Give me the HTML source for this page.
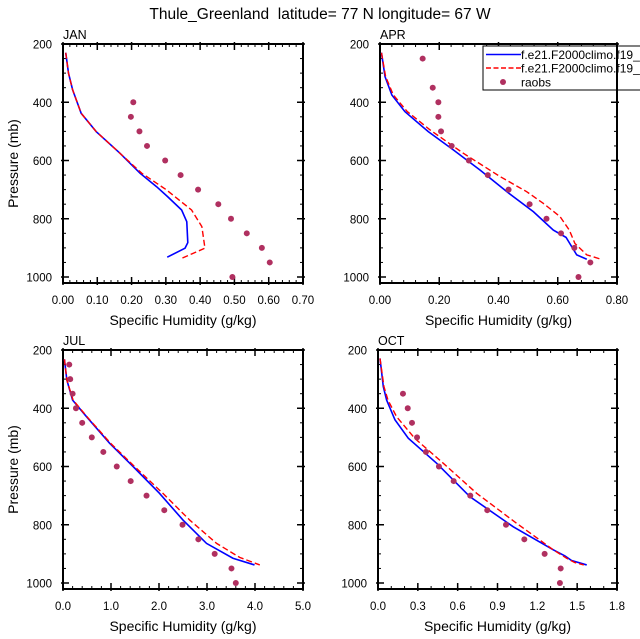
<!DOCTYPE html>
<html><head><meta charset="utf-8"><style>
html,body{margin:0;padding:0;background:#fff}
svg{display:block;font-family:"Liberation Sans",sans-serif}
</style></head><body>
<svg id="chart" width="640" height="639" viewBox="0 0 640 639" xmlns="http://www.w3.org/2000/svg">
<text x="320" y="19" font-size="15.5" text-anchor="middle" xml:space="preserve">Thule_Greenland  latitude= 77 N longitude= 67 W</text>
</svg>
<script>
// Panel data (pressure in mb, specific humidity in g/kg)
const months = ["JAN","APR","JUL","OCT"];
const xMaxes = [0.7, 0.8, 5.0, 1.8];
const xTickLabels = [
  ["0.00","0.10","0.20","0.30","0.40","0.50","0.60","0.70"],
  ["0.00","0.20","0.40","0.60","0.80"],
  ["0.0","1.0","2.0","3.0","4.0","5.0"],
  ["0.0","0.3","0.6","0.9","1.2","1.5","1.8"]
];
const xTickValues = [
  [0,0.1,0.2,0.3,0.4,0.5,0.6,0.7],
  [0,0.2,0.4,0.6,0.8],
  [0,1,2,3,4,5],
  [0,0.3,0.6,0.9,1.2,1.5,1.8]
];
const xMinorSteps = [0.02, 0.04, 0.2, 0.1];
const yTickValues = [200,400,600,800,1000];

const obsP = [250,300,350,400,450,500,550,600,650,700,750,800,850,900,950,1000];
const obsJan = [null,null,null,0.205,0.198,0.223,0.245,0.298,0.343,0.394,0.453,0.49,0.536,0.58,0.603,0.494];
const obsApr = [0.144,null,0.178,0.197,0.197,0.206,0.242,0.300,0.364,0.434,0.505,0.562,0.611,0.656,0.710,0.670];
const obsJul = [0.13,0.15,0.2,0.27,0.4,0.6,0.84,1.12,1.41,1.74,2.11,2.49,2.82,3.16,3.51,3.6];
const obsOct = [null,null,0.188,0.224,0.256,0.294,0.361,0.459,0.57,0.695,0.823,0.964,1.102,1.255,1.376,1.37];

const janBlueP = [230,300,357,438,501,575,644,690,724,770,810,882,901,932];
const janBlueQ = [0.008,0.016,0.028,0.053,0.097,0.166,0.225,0.273,0.305,0.346,0.361,0.364,0.356,0.304];
const janRedP = [230,300,357,438,501,575,644,701,770,827,901,936];
const janRedQ = [0.008,0.016,0.028,0.053,0.097,0.166,0.23,0.302,0.375,0.405,0.414,0.346];

const aprBlueP = [230,312,375,432,501,564,633,707,776,839,864,924,939];
const aprBlueQ = [0.005,0.017,0.04,0.084,0.163,0.248,0.338,0.428,0.518,0.585,0.628,0.664,0.698];
const aprRedP = [230,312,375,432,495,575,655,707,747,793,839,885,924,939];
const aprRedQ = [0.005,0.019,0.045,0.092,0.169,0.281,0.405,0.495,0.551,0.608,0.639,0.658,0.698,0.746];

const julBlueP = [232,303,372,429,520,600,692,784,864,915,938];
const julBlueQ = [0.03,0.08,0.2,0.49,0.97,1.46,2.01,2.5,2.99,3.54,3.99];
const julRedP = [232,303,372,429,520,600,692,784,864,912,938];
const julRedQ = [0.03,0.08,0.21,0.5,0.99,1.49,2.08,2.64,3.2,3.68,4.1];

const octBlueP = [229,326,372,440,503,589,704,807,886,907,923,938];
const octBlueQ = [0.015,0.04,0.065,0.128,0.228,0.442,0.693,1.019,1.32,1.408,1.458,1.572];
const octRedP = [229,326,372,429,503,589,692,795,886,915,930,938];
const octRedQ = [0.015,0.045,0.075,0.14,0.276,0.492,0.743,1.044,1.32,1.421,1.483,1.55];

const obsSeries = [obsJan, obsApr, obsJul, obsOct];
const blueP = [janBlueP, aprBlueP, julBlueP, octBlueP];
const blueQ = [janBlueQ, aprBlueQ, julBlueQ, octBlueQ];
const redP = [janRedP, aprRedP, julRedP, octRedP];
const redQ = [janRedQ, aprRedQ, julRedQ, octRedQ];

const frames = [
  {l:63,r:303,t:44,b:283,y200:44,y1000:277,leftLabel:true},
  {l:380,r:617,t:44,b:283,y200:44,y1000:277,leftLabel:false},
  {l:63,r:303,t:350,b:589,y200:350,y1000:583,leftLabel:true},
  {l:378,r:617,t:350,b:589,y200:350,y1000:583,leftLabel:false}
];

const NS = "http://www.w3.org/2000/svg";
const svg = document.getElementById("chart");
function mk(tag, attrs, parent){
  const e = document.createElementNS(NS, tag);
  for (const k in attrs) e.setAttribute(k, attrs[k]);
  (parent||svg).appendChild(e);
  return e;
}

frames.forEach((f, i) => {
  const g = mk("g", {});
  
  
  const xs = v => f.l + v / xMaxes[i] * (f.r - f.l);
  const ys = p => f.y200 + (p - 200) / 800 * (f.y1000 - f.y200);

  // minor ticks x
  const nMin = Math.round(xMaxes[i] / xMinorSteps[i]);
  for (let k = 0; k <= nMin; k++) {
    const x = xs(k * xMinorSteps[i]);
    mk("line", {x1:x,x2:x,y1:f.t,y2:f.t+3,stroke:"#000","stroke-width":1}, g);
    mk("line", {x1:x,x2:x,y1:f.b,y2:f.b-3,stroke:"#000","stroke-width":1}, g);
  }
  // minor ticks y
  for (let p = 200; p <= 1000; p += 50) {
    const y = ys(p);
    mk("line", {x1:f.l,x2:f.l+3,y1:y,y2:y,stroke:"#000","stroke-width":1}, g);
    mk("line", {x1:f.r,x2:f.r-3,y1:y,y2:y,stroke:"#000","stroke-width":1}, g);
  }
  // major x ticks + labels
  xTickValues[i].forEach((v, k) => {
    const x = xs(v);
    mk("line", {x1:x,x2:x,y1:f.t-2,y2:f.t+6,stroke:"#000","stroke-width":1.5}, g);
    mk("line", {x1:x,x2:x,y1:f.b+2,y2:f.b-6,stroke:"#000","stroke-width":1.5}, g);
    const t = mk("text", {x:x,y:f.b+21,"font-size":11.5,"text-anchor":"middle"}, g);
    
    
    t.textContent = xTickLabels[i][k];
  });
  // major y ticks + labels
  yTickValues.forEach(p => {
    const y = ys(p);
    mk("line", {x1:f.l-2,x2:f.l+6,y1:y,y2:y,stroke:"#000","stroke-width":1.5}, g);
    mk("line", {x1:f.r+2,x2:f.r-6,y1:y,y2:y,stroke:"#000","stroke-width":1.5}, g);
    const t = mk("text", {x:f.l-11,y:y+4.5,"font-size":11.5,"text-anchor":"end"}, g);
    
    
    t.textContent = String(p);
  });
  // frame
  const fr = mk("rect", {x:f.l,y:f.t,width:f.r-f.l,height:f.b-f.t,fill:"none",stroke:"#000","stroke-width":2}, g);
  
  

  // month label
  const ml = mk("text", {x:f.l,y:f.t-5,"font-size":12.5}, g);
  
  
  ml.textContent = months[i];

  // axis titles
  const xt = mk("text", {x:(f.l+f.r)/2,y:f.b+42,"font-size":14,"text-anchor":"middle"}, g);
  
  
  xt.textContent = "Specific Humidity (g/kg)";
  if (f.leftLabel) {
    const cy = (f.t+f.b)/2;
    const yt = mk("text", {x:18,y:cy,"font-size":14,"text-anchor":"middle",transform:"rotate(-90 18 "+cy+")"}, g);
    
    
    yt.textContent = "Pressure (mb)";
  }

  // series
  const bl = mk("polyline", {fill:"none",stroke:"#0000ff","stroke-width":1.6,
    points: blueP[i].map((p,k)=>xs(blueQ[i][k])+","+ys(p)).join(" ")}, g);
  
  
  const rl = mk("polyline", {fill:"none",stroke:"#ff0000","stroke-width":1.4,"stroke-dasharray":"6,3",
    points: redP[i].map((p,k)=>xs(redQ[i][k])+","+ys(p)).join(" ")}, g);
  
  
  obsP.forEach((p,k) => {
    const q = obsSeries[i][k];
    if (q === null) return;
    const c = mk("circle", {cx:xs(q),cy:ys(p),r:3,fill:"#b03060"}, g);
    
    
  });
});

// legend
const lg = mk("g", {});


const lb = mk("rect", {x:483,y:46,width:170,height:44,fill:"#fff",stroke:"#000","stroke-width":1}, lg);


const e1 = mk("line", {x1:486,x2:521,y1:54.5,y2:54.5,stroke:"#0000ff","stroke-width":1.6}, lg);


const t1 = mk("text", {x:521,y:59,"font-size":12}, lg);


t1.textContent = "f.e21.F2000climo.f19_";
const e2 = mk("line", {x1:486,x2:521,y1:68,y2:68,stroke:"#ff0000","stroke-width":1.4,"stroke-dasharray":"5,2.5"}, lg);


const t2 = mk("text", {x:521,y:72.5,"font-size":12}, lg);


t2.textContent = "f.e21.F2000climo.f19_";
const e3 = mk("circle", {cx:503,cy:82,r:3,fill:"#b03060"}, lg);


const t3 = mk("text", {x:521,y:86.5,"font-size":12}, lg);


t3.textContent = "raobs";
// redraw right axis line over legend
const ra = mk("line", {x1:617,x2:617,y1:44,y2:283,stroke:"#000","stroke-width":2});


</script>
</body></html>
